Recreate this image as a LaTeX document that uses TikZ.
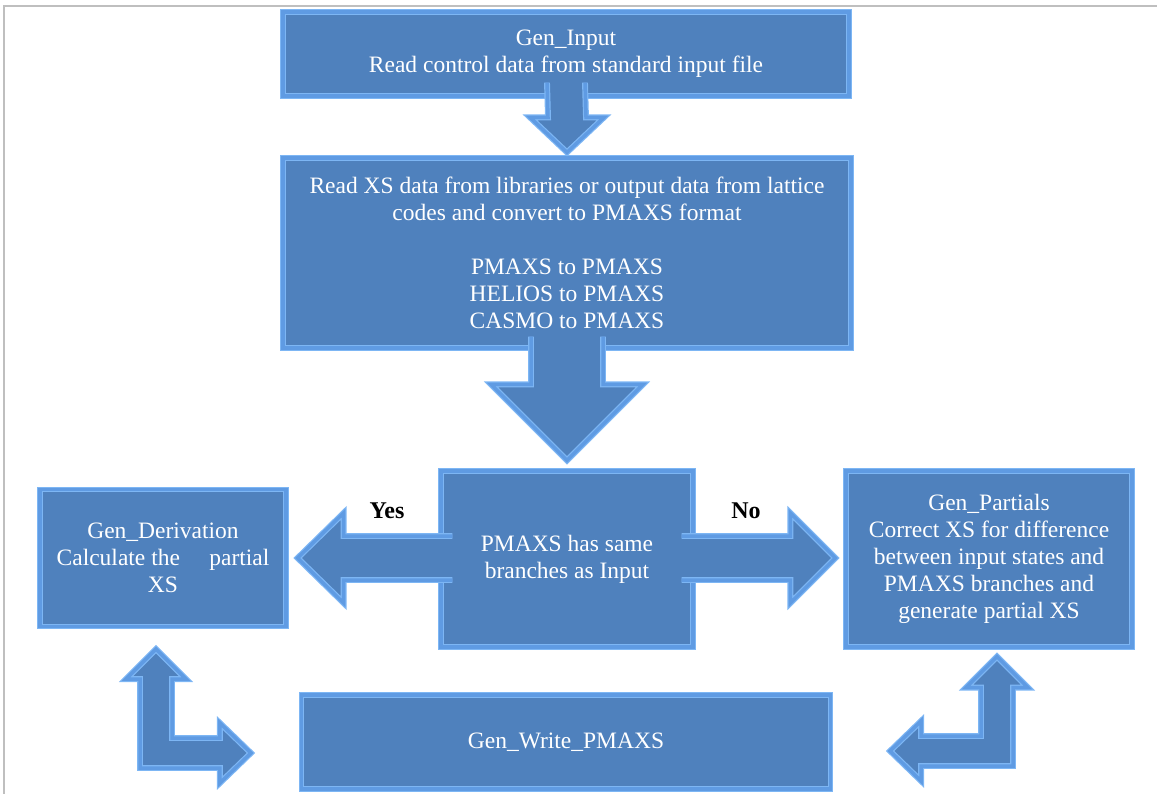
\documentclass[tikz,border=0pt]{standalone}
\usepackage{fontspec}
\setmainfont{Liberation Serif}
\usetikzlibrary{calc}
\definecolor{boxblue}{HTML}{4F81BD}
\definecolor{bevlight}{HTML}{7DB6F4}
\definecolor{bevmid}{HTML}{5F9BE3}
\definecolor{framegray}{HTML}{BFBFBF}
\begin{document}
\begin{tikzpicture}[x=1pt,y=-1pt,
  bevel/.style={draw=bevlight, line width=1.2pt, double=bevmid, double distance=3.5pt, line join=miter},
  box/.style={rectangle, fill=boxblue, bevel, text=white, align=center, inner sep=0pt,
    font=\fontsize{23.5}{27}\selectfont},
  lab/.style={font=\bfseries\fontsize{24}{26}\selectfont, text=black}]
\useasboundingbox (0,0) rectangle (1157,794);
\draw[framegray, line width=1.5pt] (4,794) -- (4,6) -- (1157,6);

% boxes
\node[box, minimum width=566pt, minimum height=84pt] (b1) at (566,54)
  {Gen\_Input\\Read control data from standard input file};
\node[box, minimum width=568pt, minimum height=190pt] (b2) at (567,253)
  {Read XS data from libraries or output data from lattice\\codes and convert to PMAXS format\\[27pt]PMAXS to PMAXS\\HELIOS to PMAXS\\CASMO to PMAXS};
\node[box, minimum width=252pt, minimum height=176pt] (b3) at (567,559)
  {PMAXS has same\\branches as Input};
\node[box, minimum width=246pt, minimum height=137pt] (bL) at (163,558)
  {Gen\_Derivation\\Calculate the \quad partial\\XS};
\node[box, minimum width=286pt, minimum height=176pt] (bR) at (989,559)
  {Gen\_Partials\\Correct XS for difference\\between input states and\\PMAXS branches and\\generate partial XS};
\node[box, minimum width=529pt, minimum height=94pt] (bW) at (566,742)
  {Gen\_Write\_PMAXS};

% arrow box1 -> box2
\coordinate (a1s) at ($(b1.south)+(0,-14)$);
\coordinate (a1t) at ($(b2.north)+(0,-5)$);
\def\arrA{($(a1s)+(-19,0)$) -- ($(a1t)+(-19,-35)$) -- ($(a1t)+(-37,-35)$) -- (a1t) -- ($(a1t)+(37,-35)$) -- ($(a1t)+(19,-35)$) -- ($(a1s)+(19,0)$)}
\fill[boxblue] \arrA -- cycle;
\draw[bevel] \arrA;

% arrow box2 -> box3
\coordinate (a2s) at ($(b2.south)+(0,-12)$);
\coordinate (a2t) at ($(b3.north)+(0,-10)$);
\def\arrB{($(a2s)+(-36,0)$) -- ($(a2t)+(-36,-76)$) -- ($(a2t)+(-76,-76)$) -- (a2t) -- ($(a2t)+(76,-76)$) -- ($(a2t)+(36,-76)$) -- ($(a2s)+(36,0)$)}
\fill[boxblue] \arrB -- cycle;
\draw[bevel] \arrB;

% Yes arrow
\coordinate (yt) at ($(bL.east)+(11,0)$);
\coordinate (ys) at ($(yt -| b3.west)+(12,0)$);
\def\arrY{($(ys)+(0,-22)$) -- ($(yt)+(46,-22)$) -- ($(yt)+(46,-45)$) -- (yt) -- ($(yt)+(46,45)$) -- ($(yt)+(46,22)$) -- ($(ys)+(0,22)$)}
\fill[boxblue] \arrY -- cycle;
\draw[bevel] \arrY;

% No arrow
\coordinate (nt) at ($(bR.west)+(-10,-1)$);
\coordinate (ns) at ($(nt -| b3.east)+(-12,0)$);
\def\arrN{($(ns)+(0,-22)$) -- ($(nt)+(-45,-22)$) -- ($(nt)+(-45,-45)$) -- (nt) -- ($(nt)+(-45,45)$) -- ($(nt)+(-45,22)$) -- ($(ns)+(0,22)$)}
\fill[boxblue] \arrN -- cycle;
\draw[bevel] \arrN;

% left L arrow
\coordinate (lu) at ($(bL.south)+(-7,22)$);
\coordinate (lr) at ($(bW.west)+(-50,11)$);
\coordinate (lc) at (lu |- lr);
\path[fill=boxblue, bevel] (lu) -- ($(lu)+(30,30)$) -- ($(lu)+(16,30)$) -- ($(lc)+(16,-15)$)
  -- ($(lr)+(-31,-15)$) -- ($(lr)+(-31,-30)$) -- (lr) -- ($(lr)+(-31,30)$) -- ($(lr)+(-31,15)$)
  -- ($(lc)+(-16,15)$) -- ($(lu)+(-16,30)$) -- ($(lu)+(-30,30)$) -- cycle;

% right L arrow
\coordinate (ru) at ($(bR.south)+(8,9)$);
\coordinate (rl) at ($(bW.east)+(59,9)$);
\coordinate (rc) at (ru |- rl);
\path[fill=boxblue, bevel] (ru) -- ($(ru)+(31,31)$) -- ($(ru)+(16,31)$) -- ($(rc)+(16,15)$)
  -- ($(rl)+(31,15)$) -- ($(rl)+(31,30)$) -- (rl) -- ($(rl)+(31,-30)$) -- ($(rl)+(31,-15)$)
  -- ($(rc)+(-16,-15)$) -- ($(ru)+(-16,31)$) -- ($(ru)+(-31,31)$) -- cycle;

% labels
\node[lab] (yes) at (387,511) {Yes};
\node[lab] (no) at (746,511) {No};
\end{tikzpicture}
\end{document}
